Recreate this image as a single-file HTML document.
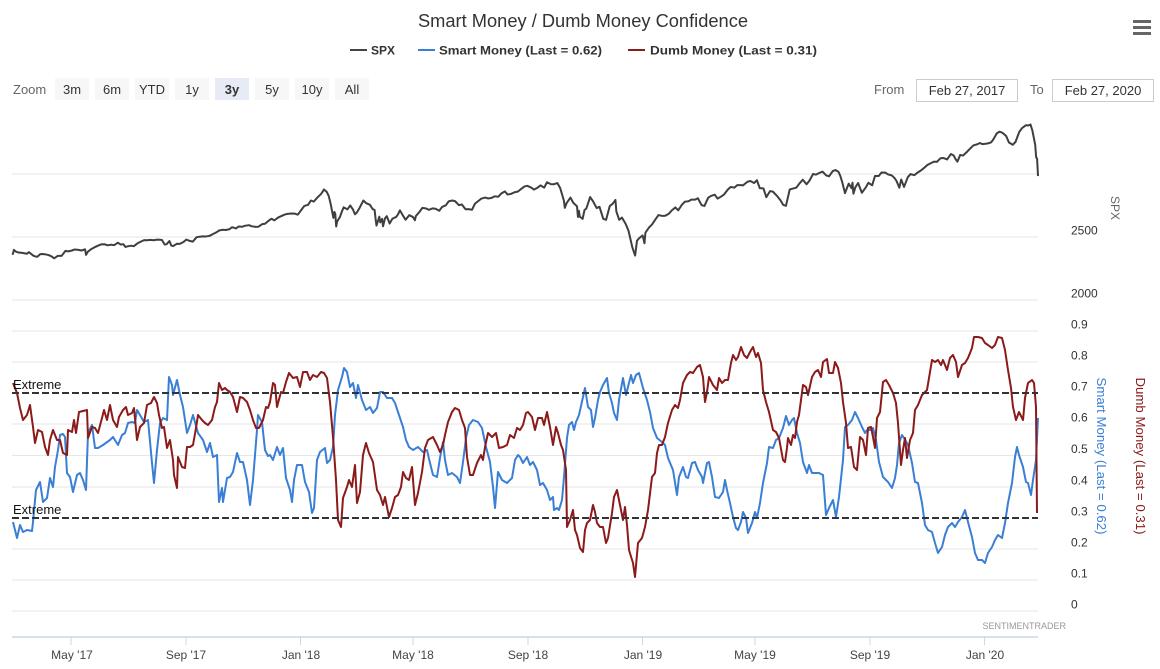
<!DOCTYPE html>
<html>
<head>
<meta charset="utf-8">
<style>
html,body{margin:0;padding:0;background:#fff;}
svg{display:block;font-family:"Liberation Sans",Arial,sans-serif;}
</style>
</head>
<body>
<svg width="1160" height="669" viewBox="0 0 1160 669" xmlns="http://www.w3.org/2000/svg">
<rect x="0" y="0" width="1160" height="669" fill="#fff"/>

<!-- Title -->
<text x="583" y="27" text-anchor="middle" font-size="18" fill="#333" textLength="330" lengthAdjust="spacingAndGlyphs">Smart Money / Dumb Money Confidence</text>

<!-- Hamburger -->
<rect x="1133" y="20" width="18" height="3" fill="#666"/>
<rect x="1133" y="26" width="18" height="3" fill="#666"/>
<rect x="1133" y="32" width="18" height="3" fill="#666"/>

<!-- Legend -->
<g font-size="12" font-weight="bold" fill="#333">
  <line x1="350" y1="50" x2="367" y2="50" stroke="#444" stroke-width="2"/>
  <text x="371" y="54.5">SPX</text>
  <line x1="418" y1="50" x2="435" y2="50" stroke="#3a7fd5" stroke-width="2"/>
  <text x="439" y="54.5" textLength="163" lengthAdjust="spacingAndGlyphs">Smart Money (Last = 0.62)</text>
  <line x1="628" y1="50" x2="645" y2="50" stroke="#8b1a1a" stroke-width="2"/>
  <text x="650" y="54.5" textLength="167" lengthAdjust="spacingAndGlyphs">Dumb Money (Last = 0.31)</text>
</g>

<!-- Zoom buttons -->
<g font-size="13" fill="#333">
  <text x="13" y="94" fill="#666">Zoom</text>
  <rect x="55" y="78" width="34" height="22" fill="#f7f7f7"/>
  <text x="72" y="94" text-anchor="middle">3m</text>
  <rect x="95" y="78" width="34" height="22" fill="#f7f7f7"/>
  <text x="112" y="94" text-anchor="middle">6m</text>
  <rect x="135" y="78" width="34" height="22" fill="#f7f7f7"/>
  <text x="152" y="94" text-anchor="middle">YTD</text>
  <rect x="175" y="78" width="34" height="22" fill="#f7f7f7"/>
  <text x="192" y="94" text-anchor="middle">1y</text>
  <rect x="215" y="78" width="34" height="22" fill="#e6ebf5"/>
  <text x="232" y="94" text-anchor="middle" font-weight="bold">3y</text>
  <rect x="255" y="78" width="34" height="22" fill="#f7f7f7"/>
  <text x="272" y="94" text-anchor="middle">5y</text>
  <rect x="295" y="78" width="34" height="22" fill="#f7f7f7"/>
  <text x="312" y="94" text-anchor="middle">10y</text>
  <rect x="335" y="78" width="34" height="22" fill="#f7f7f7"/>
  <text x="352" y="94" text-anchor="middle">All</text>
</g>

<!-- From / To -->
<g font-size="13">
  <text x="874" y="94" fill="#666">From</text>
  <rect x="916.5" y="79.5" width="101" height="22" fill="#fff" stroke="#ccc" stroke-width="1"/>
  <text x="967" y="95" text-anchor="middle" fill="#333">Feb 27, 2017</text>
  <text x="1030" y="94" fill="#666">To</text>
  <rect x="1052.5" y="79.5" width="101" height="22" fill="#fff" stroke="#ccc" stroke-width="1"/>
  <text x="1103" y="95" text-anchor="middle" fill="#333">Feb 27, 2020</text>
</g>

<!-- Grid lines -->
<g stroke="#e6e6e6" stroke-width="1">
  <line x1="12" y1="174" x2="1038" y2="174"/>
  <line x1="12" y1="237" x2="1038" y2="237"/>
  <line x1="12" y1="300" x2="1038" y2="300"/>
  <line x1="12" y1="331" x2="1038" y2="331"/>
  <line x1="12" y1="362" x2="1038" y2="362"/>
  <line x1="12" y1="424" x2="1038" y2="424"/>
  <line x1="12" y1="455.5" x2="1038" y2="455.5"/>
  <line x1="12" y1="487" x2="1038" y2="487"/>
  <line x1="12" y1="549" x2="1038" y2="549"/>
  <line x1="12" y1="580" x2="1038" y2="580"/>
  <line x1="12" y1="611" x2="1038" y2="611"/>
</g>

<!-- SPX -->
<polyline fill="none" stroke="#3f3f3f" stroke-width="2" stroke-linejoin="round" vector-effect="non-scaling-stroke"
 transform="matrix(0.937 0 0 -0.1266 12 553.2)"
 points="0,2369 1,2364 2,2396 4,2383 7,2375 11,2372 16,2365 18,2378 23,2349 25,2344 27,2342 30,2361 32,2363 36,2360 39,2355 42,2345 45,2329 49,2349 53,2349 57,2388 60,2384 64,2391 67,2399 71,2396 74,2391 78,2400 79,2357 81,2382 85,2404 88,2416 92,2430 95,2439 99,2440 102,2432 106,2437 109,2433 113,2453 116,2438 119,2440 121,2419 123,2423 127,2429 130,2425 134,2448 137,2459 141,2473 144,2472 148,2475 151,2472 155,2477 158,2476 160,2474 163,2438 165,2441 168,2466 170,2430 172,2426 176,2444 179,2443 183,2458 186,2477 190,2466 193,2461 197,2496 200,2500 204,2503 207,2502 211,2507 214,2519 218,2534 221,2549 225,2555 228,2553 232,2559 235,2575 239,2565 242,2581 246,2579 249,2587 253,2591 256,2582 260,2578 263,2579 267,2599 270,2602 274,2627 277,2642 280,2629 284,2651 288,2665 291,2675 294,2680 298,2683 302,2682 305,2674 309,2714 312,2743 316,2752 319,2786 322,2777 326,2810 330,2839 333,2873 336,2853 338,2822 340,2762 343,2649 344,2695 345,2682 346,2581 347,2620 350,2656 352,2698 354,2732 358,2716 361,2747 364,2713 366,2677 368,2691 371,2728 375,2786 378,2765 382,2752 385,2717 387,2711 388,2643 389,2588 392,2658 393,2613 395,2641 396,2582 398,2644 400,2662 403,2604 406,2642 410,2656 412,2677 414,2708 417,2670 420,2634 424,2670 428,2655 430,2630 431,2663 435,2697 438,2728 442,2723 445,2712 449,2724 452,2721 456,2705 459,2735 463,2748 466,2779 470,2786 473,2780 477,2749 480,2755 484,2717 487,2718 491,2713 494,2760 498,2784 501,2801 505,2809 508,2802 512,2807 515,2819 519,2816 522,2840 526,2858 529,2833 533,2839 536,2850 540,2857 543,2875 547,2897 550,2902 554,2888 557,2872 561,2888 564,2905 568,2888 571,2930 575,2915 578,2914 582,2924 585,2885 589,2785 590,2728 592,2767 596,2809 599,2768 603,2740 604,2656 605,2705 606,2658 609,2641 611,2711 613,2723 617,2813 620,2781 624,2726 627,2736 631,2641 634,2633 638,2743 641,2760 644,2790 645,2700 648,2633 651,2651 655,2600 658,2546 662,2417 665,2351 667,2468 669,2486 673,2510 675,2448 676,2532 680,2574 683,2596 687,2640 690,2671 694,2664 697,2665 701,2681 704,2707 708,2731 711,2708 715,2753 718,2776 722,2780 725,2793 729,2793 732,2804 736,2749 739,2743 743,2808 746,2822 750,2832 753,2801 757,2818 760,2834 764,2873 767,2893 771,2888 774,2907 778,2907 780,2905 785,2934 788,2940 792,2924 795,2946 798,2884 802,2881 805,2812 809,2860 812,2856 816,2826 820,2789 823,2752 826,2744 830,2873 833,2879 837,2887 841,2926 844,2950 848,2914 851,2942 855,2996 858,2990 862,3005 865,3014 869,2984 872,2977 876,3019 879,3026 882,3013 884,2980 886,2932 889,2844 891,2883 893,2919 896,2883 897,2926 898,2840 900,2889 903,2924 907,2847 911,2887 914,2926 918,2906 921,2979 925,2979 928,3007 932,3006 935,2992 939,2984 942,2962 944,2940 947,2887 949,2952 952,2893 956,2970 959,2995 963,2986 966,3004 970,3023 974,3047 977,3067 980,3078 984,3093 987,3091 991,3120 994,3122 998,3110 1002,3153 1005,3141 1007,3113 1009,3093 1012,3146 1015,3141 1019,3169 1022,3192 1026,3221 1030,3230 1033,3240 1036,3231 1040,3235 1042,3238 1045,3246 1047,3265 1051,3316 1054,3330 1057,3321 1061,3295 1064,3244 1068,3226 1071,3249 1075,3328 1078,3358 1082,3380 1085,3379 1087,3386 1089,3338 1092,3226 1093,3128 1094,3116 1095,2979"/>

<!-- Smart Money -->
<polyline fill="none" stroke="#3a7fd5" stroke-width="2" stroke-linejoin="round"
 points="13,522 17,538 20,525 23,532 27,530 32,531 33,522 36,490 40,482 43,502 47,498 50,478 53,487 55,467 58,450 60,435 63,434 65,437 67,473 70,477 73,492 77,475 80,473 83,480 86,490 88,433 92,425 95,448 98,448 103,445 110,440 113,437 118,445 122,435 125,433 128,423 132,422 135,423 137,410 140,415 144,422 148,420 152,463 154,483 157,450 160,423 163,418 167,420 169,377 172,385 173,395 177,380 180,395 183,407 187,433 190,425 193,415 198,433 203,440 207,452 210,443 213,457 217,455 219,502 222,488 223,502 227,478 230,477 233,472 237,453 240,462 243,462 247,480 250,505 253,480 257,430 258,415 262,422 265,450 268,456 270,455 273,460 277,447 280,455 283,448 286,478 290,490 292,502 294,480 297,465 302,465 305,482 309,492 312,513 314,508 317,460 320,452 325,448 327,463 330,460 333,447 335,415 338,390 342,377 344,368 347,372 350,387 353,383 356,398 358,385 362,400 366,410 370,407 373,413 377,408 380,392 383,392 387,398 392,398 395,403 398,412 403,427 406,440 409,447 413,450 418,447 423,452 427,450 430,463 433,475 437,477 440,458 443,442 445,460 448,475 452,473 457,477 460,483 463,462 466,438 469,425 473,420 478,422 482,428 486,447 490,462 493,487 495,508 498,472 502,480 507,483 512,478 515,460 518,455 520,457 523,463 527,457 530,465 533,462 537,470 540,485 543,483 547,490 550,500 553,497 554,510 557,508 559,510 562,500 564,477 567,438 569,425 572,422 574,430 576,422 579,415 583,397 585,388 588,407 591,410 593,427 595,418 598,400 600,392 603,385 607,378 609,393 612,403 614,413 617,420 619,400 623,378 626,395 628,387 631,375 633,383 636,375 639,373 643,388 647,400 650,412 653,428 657,438 662,442 665,445 668,458 673,470 677,495 679,477 683,467 686,477 688,478 692,463 695,462 698,470 702,477 703,483 707,463 709,462 712,477 715,497 719,498 723,492 725,480 727,490 730,503 733,517 736,528 738,530 741,522 743,512 746,518 748,533 752,523 755,512 757,518 760,503 763,483 767,463 769,447 773,448 776,440 779,438 783,428 786,416 789,425 792,420 794,418 797,433 800,443 803,462 807,473 809,465 812,473 815,473 819,473 823,475 826,515 829,508 833,500 836,517 839,497 843,460 845,427 848,425 852,420 855,412 858,418 862,427 865,433 867,430 870,430 873,428 876,440 879,462 883,477 886,480 888,482 892,488 895,478 897,465 899,443 902,435 904,438 908,445 912,463 915,482 918,483 922,503 925,525 928,530 932,532 935,543 938,553 942,547 945,535 948,527 952,523 955,527 958,522 962,517 965,510 968,522 972,537 975,553 978,560 982,560 985,563 988,553 992,547 995,540 998,535 1002,538 1005,523 1008,503 1012,483 1015,457 1017,447 1019,455 1023,467 1026,482 1028,483 1031,495 1033,480 1036,460 1038,418"/>

<!-- Dumb Money -->
<polyline fill="none" stroke="#8b1a1a" stroke-width="2" stroke-linejoin="round"
 points="13,383 17,393 20,408 23,420 27,415 30,405 33,427 35,443 38,430 42,432 45,447 48,455 50,440 53,430 57,440 60,440 63,453 67,455 68,430 72,432 74,420 76,433 79,412 83,411 87,410 88,438 92,427 95,428 98,433 102,418 104,410 107,420 110,405 113,420 117,427 119,417 123,410 126,407 128,415 132,413 134,408 137,440 140,427 144,423 147,405 151,403 154,397 157,403 159,415 162,428 164,427 167,448 170,440 173,460 174,475 177,488 178,457 182,467 185,468 187,447 190,447 193,445 196,428 198,415 202,420 205,423 208,425 212,420 215,407 217,402 219,383 222,390 225,388 227,390 230,392 233,397 237,412 240,397 243,398 247,402 250,410 253,420 256,428 259,428 263,420 266,407 268,408 270,402 273,383 275,385 277,407 281,392 283,393 286,382 289,373 293,378 297,377 300,387 303,372 307,372 310,380 313,375 317,377 321,372 324,373 327,378 330,402 333,437 336,480 338,520 341,527 343,498 347,487 349,480 352,487 355,465 357,503 360,492 363,455 366,443 369,453 373,462 377,490 380,495 383,505 385,497 389,517 392,508 395,497 398,495 401,487 403,472 406,478 409,480 412,467 415,505 418,493 422,472 425,448 428,440 433,437 437,445 440,452 443,445 445,435 448,422 452,412 455,408 459,410 462,420 465,428 467,457 470,475 473,475 477,463 481,455 483,460 485,447 488,433 492,437 496,433 499,448 503,447 507,445 510,435 514,438 517,428 520,430 523,425 526,413 528,412 532,417 535,430 538,418 542,418 544,425 547,412 550,427 553,445 556,427 558,433 561,445 563,450 566,470 567,527 570,520 573,510 575,530 577,535 580,548 583,552 585,530 587,523 590,520 593,505 595,512 597,523 600,527 603,527 606,543 608,538 612,513 614,497 617,490 620,505 623,520 625,507 627,525 629,550 633,563 635,577 638,543 642,538 645,527 648,510 652,477 655,473 657,453 659,445 662,445 665,437 668,423 672,410 675,405 678,408 680,400 683,383 687,375 690,372 693,373 697,367 700,365 703,377 705,402 707,392 709,377 713,385 717,390 719,378 722,383 725,380 728,380 731,363 733,355 736,360 738,357 741,347 744,355 747,358 750,352 753,347 756,357 758,353 761,363 763,390 766,402 769,412 773,430 776,432 779,438 783,460 785,462 787,448 788,438 791,445 793,435 795,438 797,422 799,415 803,385 806,387 808,395 812,377 815,372 818,370 821,377 823,362 827,359 829,373 833,373 835,362 838,368 841,383 843,402 846,423 848,448 851,447 854,467 857,470 860,437 863,440 866,455 868,428 871,427 873,437 875,448 877,418 880,412 883,382 886,380 889,385 893,393 896,403 898,423 901,465 903,450 905,438 907,458 910,440 913,433 915,410 918,405 922,395 927,390 930,372 932,360 935,362 938,360 941,365 943,360 947,370 950,358 953,355 956,362 958,377 962,365 965,363 968,358 972,348 974,337 978,337 982,338 985,343 988,345 992,348 995,345 998,337 1002,338 1005,350 1008,370 1011,388 1013,407 1016,420 1019,412 1023,420 1025,398 1028,383 1032,380 1034,383 1036,407 1037,513"/>

<!-- Extreme dashed lines -->
<g stroke="#333" stroke-width="2" stroke-dasharray="7,3">
  <line x1="12" y1="393" x2="1038" y2="393"/>
  <line x1="12" y1="518" x2="1038" y2="518"/>
</g>
<g font-size="13" fill="#111">
  <text x="13" y="389">Extreme</text>
  <text x="13" y="514">Extreme</text>
</g>

<!-- Right axis labels -->
<g font-size="12" fill="#333">
  <text x="1071" y="234.5">2500</text>
  <text x="1071" y="297.5">2000</text>
  <text x="1071" y="328.5">0.9</text>
  <text x="1071" y="359.5">0.8</text>
  <text x="1071" y="390.5">0.7</text>
  <text x="1071" y="421.5">0.6</text>
  <text x="1071" y="453">0.5</text>
  <text x="1071" y="484.5">0.4</text>
  <text x="1071" y="515.5">0.3</text>
  <text x="1071" y="546.5">0.2</text>
  <text x="1071" y="577.5">0.1</text>
  <text x="1071" y="608.5">0</text>
</g>

<!-- Axis titles (rotated) -->
<text transform="translate(1111,208) rotate(90)" text-anchor="middle" font-size="12" fill="#666">SPX</text>
<text transform="translate(1097,456) rotate(90)" text-anchor="middle" font-size="13" fill="#3a7fd5" textLength="157" lengthAdjust="spacingAndGlyphs">Smart Money (Last = 0.62)</text>
<text transform="translate(1136,456) rotate(90)" text-anchor="middle" font-size="13" fill="#8b1a1a" textLength="157" lengthAdjust="spacingAndGlyphs">Dumb Money (Last = 0.31)</text>

<!-- Credit -->
<text x="1066" y="629" text-anchor="end" font-size="9" fill="#999">SENTIMENTRADER</text>

<!-- X axis -->
<line x1="12" y1="637" x2="1038" y2="637" stroke="#ccd6eb" stroke-width="1.5"/>
<g stroke="#ccd6eb" stroke-width="1">
  <line x1="71" y1="637" x2="71" y2="645"/>
  <line x1="186" y1="637" x2="186" y2="645"/>
  <line x1="300.5" y1="637" x2="300.5" y2="645"/>
  <line x1="413" y1="637" x2="413" y2="645"/>
  <line x1="528" y1="637" x2="528" y2="645"/>
  <line x1="642.5" y1="637" x2="642.5" y2="645"/>
  <line x1="755" y1="637" x2="755" y2="645"/>
  <line x1="870" y1="637" x2="870" y2="645"/>
  <line x1="984.5" y1="637" x2="984.5" y2="645"/>
</g>
<g font-size="12" fill="#444" text-anchor="middle">
  <text x="72" y="659">May '17</text>
  <text x="186" y="659">Sep '17</text>
  <text x="301" y="659">Jan '18</text>
  <text x="413" y="659">May '18</text>
  <text x="528" y="659">Sep '18</text>
  <text x="643" y="659">Jan '19</text>
  <text x="755" y="659">May '19</text>
  <text x="870" y="659">Sep '19</text>
  <text x="985" y="659">Jan '20</text>
</g>
</svg>
</body>
</html>
